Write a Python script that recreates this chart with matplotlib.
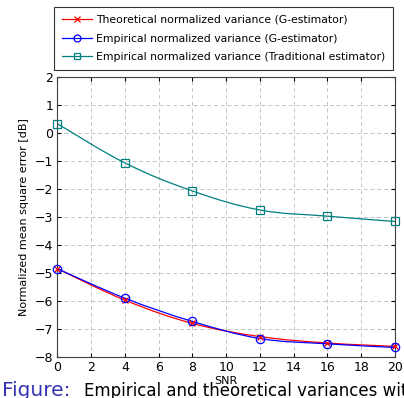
import numpy as np
import matplotlib
matplotlib.use("Agg")
import matplotlib.pyplot as plt
from matplotlib.path import Path
from matplotlib.patches import PathPatch
from matplotlib.lines import Line2D

# data
snr = [0, 4, 8, 12, 16, 20]
theo_g = [-4.85, -5.97, -6.80, -7.27, -7.50, -7.62]
emp_g = [-4.85, -5.90, -6.73, -7.34, -7.53, -7.66]
emp_trad = [0.33, -1.07, -2.07, -2.75, -2.97, -3.16]

labels = ["Theoretical normalized variance (G-estimator)",
          "Empirical normalized variance (G-estimator)",
          "Empirical normalized variance (Traditional estimator)"]
xticks = list(range(0, 21, 2))
yticks = list(range(-8, 3))

teal = (0.0, 0.5, 0.5)


def smooth_path(x, y, k=0.55):
    # cubic bezier through the points, like pgfplots "smooth"
    p = np.column_stack([x, y]).astype(float)
    n = len(p)
    verts = [p[0]]
    codes = [Path.MOVETO]
    for i in range(n - 1):
        prev = p[i - 1] if i > 0 else p[i]
        nxt = p[i + 2] if i + 2 < n else p[i + 1]
        c1 = p[i] + (p[i + 1] - prev) * k / 3
        c2 = p[i + 1] - (nxt - p[i]) * k / 3
        verts += [c1, c2, p[i + 1]]
        codes += [Path.CURVE4] * 3
    return Path(verts, codes)


fig = plt.figure(figsize=(4.04, 3.98), dpi=100)
ax = fig.add_axes([0.1423, 0.103, 0.8354, 0.7035])

series = [(theo_g, "red", "x"), (emp_g, "blue", "o"), (emp_trad, teal, "s")]
handles = []
for (vals, col, mk), lab in zip(series, labels):
    ax.add_patch(PathPatch(smooth_path(snr, vals), fill=False, edgecolor=col, lw=0.9, zorder=3))
    ax.plot(snr, vals, ls="none", marker=mk, color=col, mfc="none", ms=6 if mk != "x" else 5,
            mew=0.9, zorder=4, clip_on=False)
    handles.append(Line2D([], [], color=col, marker=mk, mfc="none", ms=5, mew=0.9, lw=0.9))

ax.set_xlim(0, 20)
ax.set_ylim(-8, 2)
ax.set_xticks(xticks)
ax.set_yticks(yticks)
ax.set_yticklabels([str(t).replace("-", "\u2212") for t in yticks])
ax.tick_params(direction="in", top=True, right=True, labelsize=9, length=3, pad=3)
ax.grid(True, ls=(0, (4, 3)), color="#c4c4c4", lw=0.7)
for s in ax.spines.values():
    s.set_linewidth(0.8)
    s.set_color("#404040")

ax.set_xlabel("SNR", fontsize=8, labelpad=1)
ax.set_ylabel("Normalized mean square error [dB]", fontsize=8, labelpad=4)

leg = fig.legend(handles, labels, loc="upper left", bbox_to_anchor=(0.134, 0.983),
                 borderaxespad=0, fontsize=7.8, frameon=True, fancybox=False,
                 edgecolor="black", handlelength=2.7, handletextpad=0.4,
                 borderpad=0.75, labelspacing=0.8)
leg.get_frame().set_linewidth(0.8)

fig.text(0.005, 0.004, "Figure:", color="#3333b3", fontsize=14.5, va="baseline")
fig.text(0.208, 0.004, "Empirical and theoretical variances with", color="black",
         fontsize=12, va="baseline")

fig.savefig("out.png", dpi=100)
